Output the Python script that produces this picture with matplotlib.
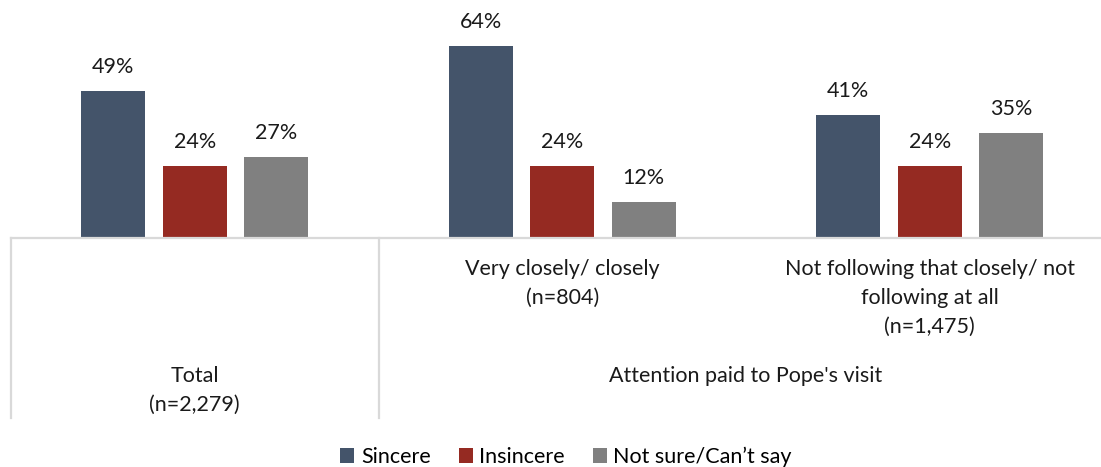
import matplotlib
matplotlib.use("Agg")
import matplotlib.pyplot as plt
from matplotlib.patches import Patch

plt.rcParams['font.family'] = ['Lato', 'DejaVu Sans']

# data
series = ["Sincere", "Insincere", "Not sure/Can\u2019t say"]
colors = ["#44546A", "#952A22", "#808080"]
groups = ["Total\n(n=2,279)",
          "Very closely/ closely\n(n=804)",
          "Not following that closely/ not\nfollowing at all\n(n=1,475)"]
sincere = [49, 64, 41]
insincere = [24, 24, 24]
not_sure = [27, 12, 35]
values = [sincere, insincere, not_sure]
parent_label = "Attention paid to Pope's visit"

W, H = 1101, 467
FS = 15.5
fig = plt.figure(figsize=(W / 100, H / 100), dpi=100)

# pixel layout
px_left, px_slot = 11, 367.5
px_base, px_bottom = 238, 418
ax_w = 3 * px_slot

ax = fig.add_axes([px_left / W, (H - px_base) / H, ax_w / W, px_base / H])
ax.set_xlim(-0.5, 2.5)
ax.set_ylim(0, px_base / 3.0)
ax.axis("off")

bar_w = 0.174
pitch = 0.222
for i, (name, vals, col) in enumerate(zip(series, values, colors)):
    xs = [g + (i - 1) * pitch for g in range(len(groups))]
    bars = ax.bar(xs, vals, width=bar_w, color=col, label=name)
    for b, v in zip(bars, vals):
        ax.annotate(f"{v}%", (b.get_x() + b.get_width() / 2, v),
                    xytext=(0, 10), textcoords="offset points",
                    ha="center", va="bottom", fontsize=FS, color="#1a1a1a")

# category axis area below the baseline
cat = fig.add_axes([px_left / W, (H - px_bottom) / H, ax_w / W, (px_bottom - px_base) / H])
cat.set_xlim(-0.5, 2.5)
cat.set_ylim(px_bottom - px_base, 0)
cat.axis("off")

line_kw = dict(color="#d9d9d9", lw=1.6, clip_on=False)
cat.plot([-0.5, 2.5], [0, 0], **line_kw)
for xv in (-0.5, 0.5, 2.5):
    cat.plot([xv, xv], [0, px_bottom - px_base], **line_kw)

txt_kw = dict(ha="center", va="top", fontsize=FS, color="#1a1a1a",
              linespacing=1.55, multialignment="center")
cat.text(1, 21, groups[1], **txt_kw)
cat.text(2, 21, groups[2], **txt_kw)
cat.text(0, 128, groups[0], **txt_kw)
cat.text(1.5, 128, parent_label, **txt_kw)

handles = [Patch(facecolor=c, label=s) for s, c in zip(series, colors)]
fig.legend(handles=handles, loc="center", bbox_to_anchor=(566 / W, 1 - 457 / H),
           ncol=3, frameon=False, fontsize=FS, handlelength=0.65,
           handleheight=0.65, handletextpad=0.3, columnspacing=1.3)

fig.savefig("out.png", dpi=100)
